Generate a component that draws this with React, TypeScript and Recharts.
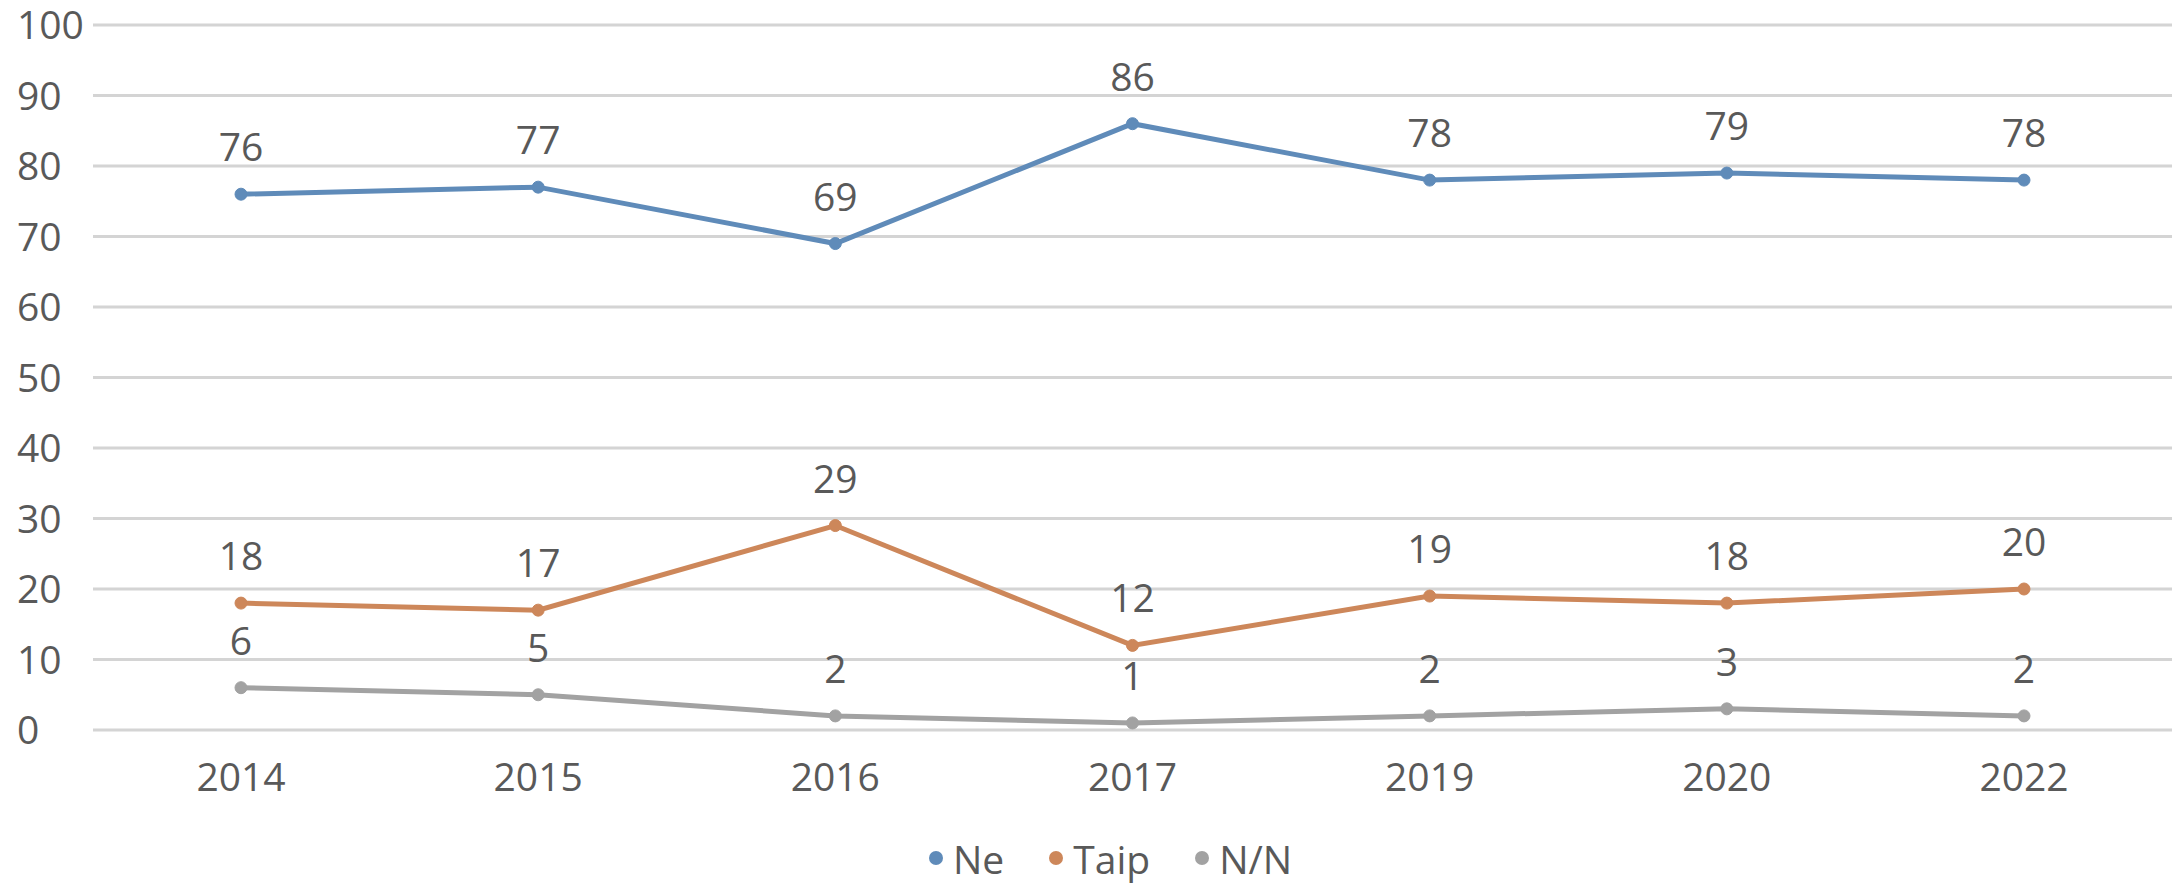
import { LineChart, Line, XAxis, YAxis, CartesianGrid, Legend, LabelList } from 'recharts';

const years = ['2014', '2015', '2016', '2017', '2019', '2020', '2022'];
const ne = [76, 77, 69, 86, 78, 79, 78];
const taip = [18, 17, 29, 12, 19, 18, 20];
const nn = [6, 5, 2, 1, 2, 3, 2];
const yTicks = [0, 10, 20, 30, 40, 50, 60, 70, 80, 90, 100];

const series = [
  { key: 'ne', name: 'Ne', color: '#5f8bb9' },
  { key: 'taip', name: 'Taip', color: '#cd875a' },
  { key: 'nn', name: 'N/N', color: '#a2a2a2' },
];

const data = years.map((year, i) => ({ year, ne: ne[i], taip: taip[i], nn: nn[i] }));

const FONT = '"Open Sans", "Noto Sans", sans-serif';
const TEXT = '#595959';

if (typeof document !== 'undefined') document.body.style.margin = '0';

function YTick({ y, payload }: any) {
  return (
    <text x={17} y={y} dy="0.36em" textAnchor="start" fill={TEXT} fontSize={39} fontFamily={FONT}>
      {payload.value}
    </text>
  );
}

function LegendContent() {
  return (
    <div style={{ display: 'flex', alignItems: 'center', fontFamily: FONT, fontSize: 39, color: TEXT, height: 54 }}>
      {series.map((s) => (
        <div key={s.key} style={{ display: 'flex', alignItems: 'center', marginRight: 44 }}>
          <svg width={16} height={16} style={{ marginRight: 9 }}>
            <circle cx={8} cy={8} r={7} fill={s.color} />
          </svg>
          <span>{s.name}</span>
        </div>
      ))}
    </div>
  );
}

export default function App() {
  return (
    <div style={{ width: 2180, height: 885, background: '#fff' }}>
      <LineChart width={2180} height={885} data={data} margin={{ top: 25, right: 8, bottom: 0, left: 0 }}>
        <CartesianGrid vertical={false} stroke="#d4d4d4" strokeWidth={3} />
        <XAxis
          dataKey="year"
          axisLine={false}
          tickLine={false}
          tickSize={0}
          tickMargin={33}
          height={101}
          padding={{ left: 148, right: 148 }}
          tick={{ fill: TEXT, fontSize: 39, fontFamily: FONT }}
        />
        <YAxis
          domain={[0, 100]}
          ticks={yTicks}
          width={93}
          axisLine={false}
          tickLine={false}
          tick={<YTick />}
          interval={0}
        />
        <Legend
          verticalAlign="bottom"
          height={54}
          content={<LegendContent />}
          wrapperStyle={{ left: 928, width: 'auto', bottom: 0 }}
        />
        {series.map((s) => (
          <Line
            key={s.key}
            dataKey={s.key}
            name={s.name}
            stroke={s.color}
            strokeWidth={5}
            dot={{ r: 6, fill: s.color, stroke: s.color, strokeWidth: 1 }}
            activeDot={false}
            isAnimationActive={false}
          >
            <LabelList dataKey={s.key} position="top" offset={33} fill={TEXT} fontSize={39} fontFamily={FONT} />
          </Line>
        ))}
      </LineChart>
    </div>
  );
}
